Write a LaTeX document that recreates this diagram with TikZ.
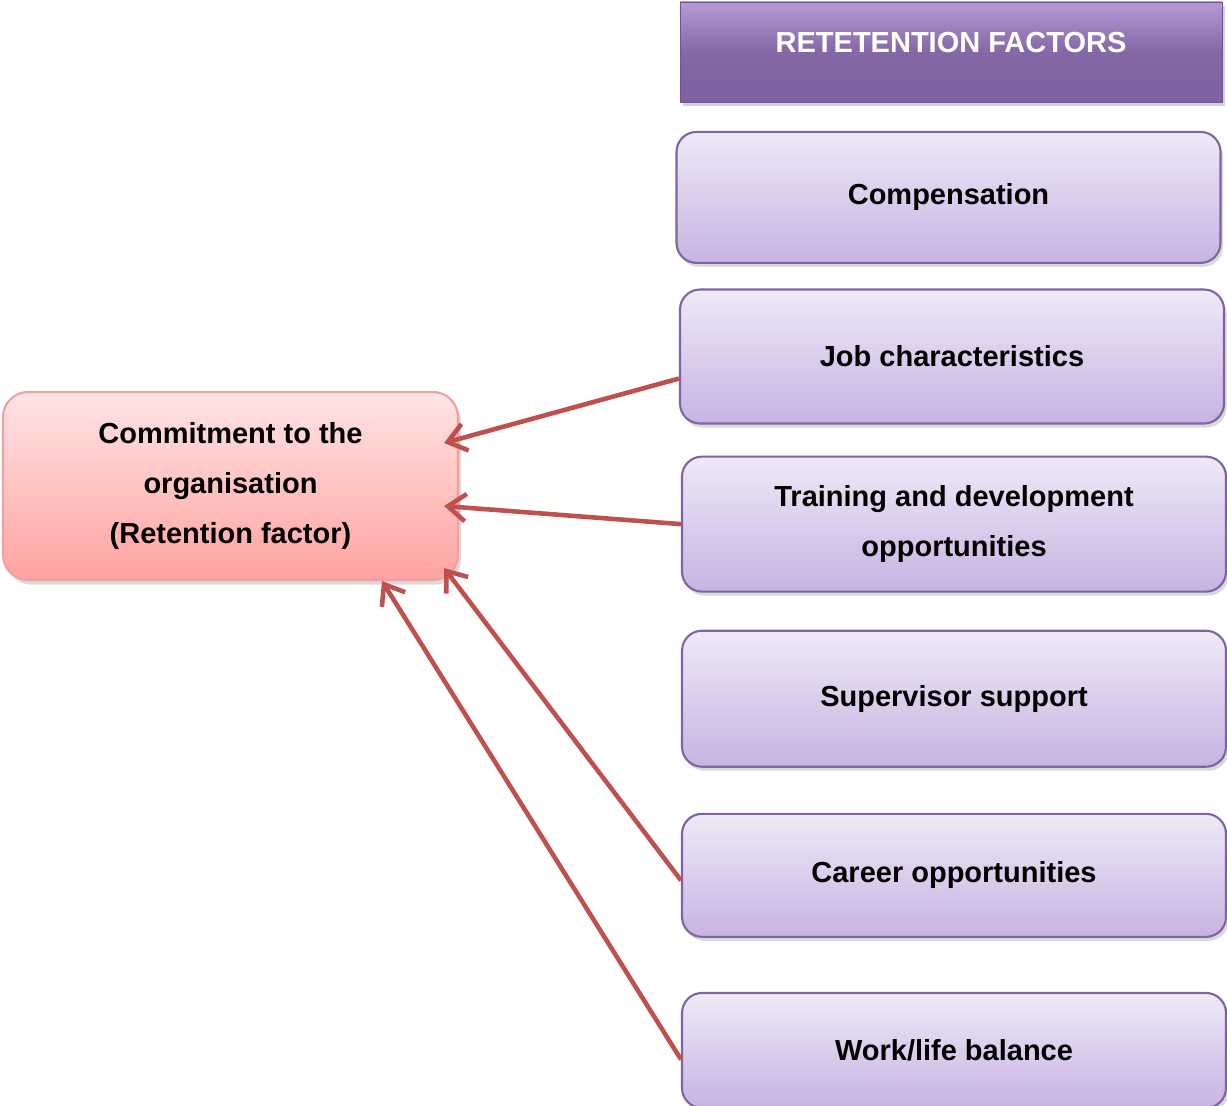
\documentclass[tikz,border=0pt]{standalone}
\usepackage{fontspec}
\setmainfont{Liberation Sans}
\usepackage{tikz}
\usetikzlibrary{shapes, arrows.meta, positioning, shadows}
\definecolor{factorline}{HTML}{8064A2}
\definecolor{factortop}{HTML}{EFE9F7}
\definecolor{factorbot}{HTML}{C7B3E2}
\definecolor{headtop}{HTML}{B59AD6}
\definecolor{headbot}{HTML}{7C60A0}
\definecolor{committop}{HTML}{FFE4E4}
\definecolor{commitbot}{HTML}{FFA3A1}
\definecolor{commitline}{HTML}{EBA3A2}
\definecolor{arrowred}{HTML}{C0504D}
\tikzstyle{boxfont} = [font=\fontsize{16.5}{28.5}\selectfont\bfseries]
\tikzstyle{header} = [rectangle, boxfont, minimum width=10.84cm, minimum height=2cm, text depth=0.38cm, text centered, text=white, draw=headbot!90!black, top color=headtop, bottom color=headbot, middle color=headbot!95!white, drop shadow={shadow xshift=0.05cm, shadow yshift=-0.08cm, opacity=0.35}]
\tikzstyle{factor} = [rectangle, rounded corners=0.4cm, boxfont, minimum width=10.88cm, align=center, draw=factorline, line width=1.2pt, top color=factortop, bottom color=factorbot, drop shadow={shadow xshift=0.05cm, shadow yshift=-0.08cm, opacity=0.3}]
\tikzstyle{commit} = [rectangle, rounded corners=0.5cm, boxfont, minimum width=9.1cm, minimum height=3.76cm, align=center, draw=commitline, line width=1.2pt, top color=committop, bottom color=commitbot, drop shadow={shadow xshift=0.06cm, shadow yshift=-0.09cm, opacity=0.3}]
\tikzstyle{arrow} = [line width=2.6pt, draw=arrowred, -{Straight Barb[length=0.36cm, width=0.55cm]}]

\begin{document}
\begin{tikzpicture}
\useasboundingbox (0,0) rectangle (24.54,-22.12);

\node (header) [header] at (19.02,-1.04) {RETETENTION FACTORS};
\node (comp) [factor, minimum height=2.62cm, below=0.57cm of header, xshift=-0.05cm] {Compensation};
\node (job) [factor, minimum height=2.68cm, below=0.49cm of comp, xshift=0.07cm] {Job characteristics};
\node (train) [factor, minimum height=2.7cm, below=0.62cm of job, xshift=0.04cm] {Training and development\\opportunities};
\node (sup) [factor, minimum height=2.72cm, below=0.74cm of train] {Supervisor support};
\node (career) [factor, minimum height=2.46cm, below=0.9cm of sup] {Career opportunities};
\node (work) [factor, minimum height=2.3cm, below=1.08cm of career] {Work/life balance};

\node (commit) [commit] at (4.61,-9.72) {Commitment to the\\organisation\\(Retention factor)};

\draw [arrow] ([yshift=-0.44cm]job.west) -- ([xshift=-0.3cm, yshift=0.86cm]commit.east);
\draw [arrow] (train.west) -- ([xshift=-0.3cm, yshift=-0.4cm]commit.east);
\draw [arrow] ([yshift=-0.1cm]career.west) -- ([xshift=-0.3cm, yshift=-1.64cm]commit.east);
\draw [arrow] ([yshift=-0.18cm]work.west) -- ([xshift=3.03cm]commit.south);

\end{tikzpicture}
\end{document}
